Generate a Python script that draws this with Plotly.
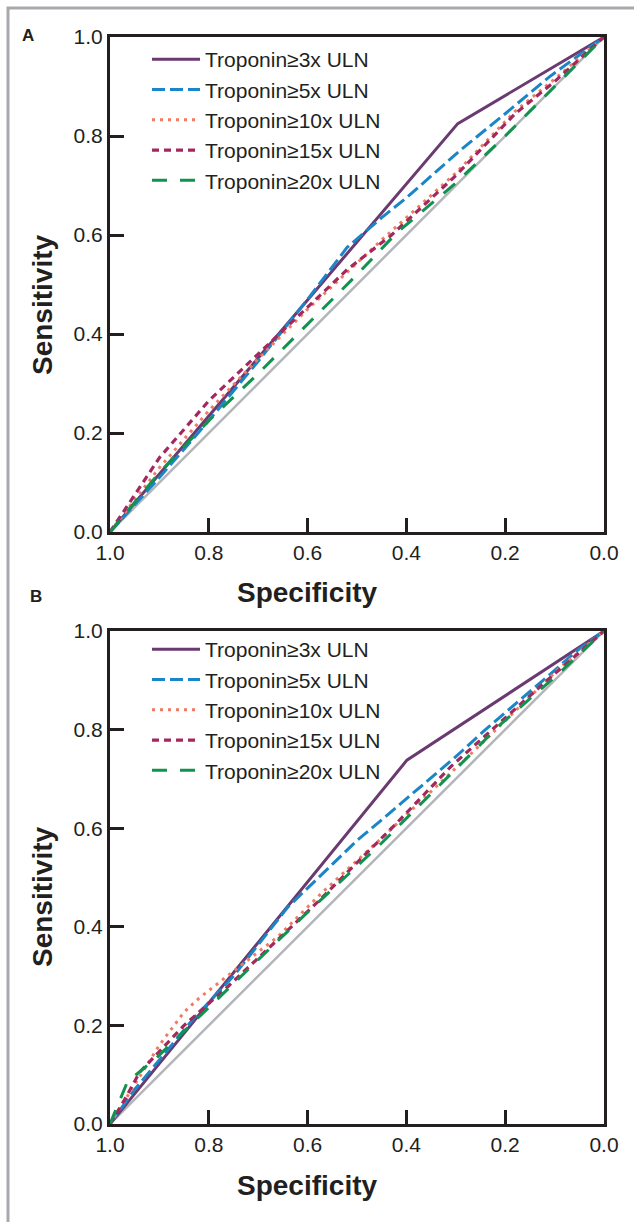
import plotly.graph_objects as go

W, H = 634, 1222

labels = ["Troponin≥3x ULN", "Troponin≥5x ULN", "Troponin≥10x ULN",
          "Troponin≥15x ULN", "Troponin≥20x ULN"]

# Panel A (specificity, sensitivity)
a_spec_3 = [1.0, 0.296, 0.0]
a_sens_3 = [0.0, 0.825, 1.0]
a_spec_5 = [1.0, 0.90, 0.80, 0.70, 0.60, 0.52, 0.45, 0.40, 0.29, 0.20, 0.11, 0.0]
a_sens_5 = [0.0, 0.11, 0.225, 0.345, 0.47, 0.575, 0.635, 0.675, 0.772, 0.845, 0.92, 1.0]
a_spec_10 = [1.0, 0.95, 0.90, 0.80, 0.70, 0.60, 0.45, 0.30, 0.18, 0.10, 0.0]
a_sens_10 = [0.0, 0.065, 0.13, 0.245, 0.35, 0.45, 0.59, 0.725, 0.85, 0.915, 1.0]
a_spec_15 = [1.0, 0.95, 0.90, 0.80, 0.70, 0.60, 0.52, 0.43, 0.30, 0.18, 0.10, 0.0]
a_sens_15 = [0.0, 0.075, 0.15, 0.265, 0.36, 0.455, 0.53, 0.60, 0.72, 0.845, 0.91, 1.0]
a_spec_20 = [1.0, 0.90, 0.80, 0.70, 0.60, 0.50, 0.42, 0.30, 0.20, 0.10, 0.0]
a_sens_20 = [0.0, 0.12, 0.225, 0.32, 0.42, 0.52, 0.604, 0.705, 0.80, 0.90, 1.0]

# Panel B (specificity, sensitivity)
b_spec_3 = [1.0, 0.399, 0.0]
b_sens_3 = [0.0, 0.738, 1.0]
b_spec_5 = [1.0, 0.95, 0.90, 0.83, 0.75, 0.64, 0.50, 0.45, 0.30, 0.24, 0.10, 0.055, 0.0]
b_sens_5 = [0.0, 0.07, 0.13, 0.215, 0.30, 0.44, 0.575, 0.617, 0.745, 0.80, 0.92, 0.96, 1.0]
b_spec_10 = [1.0, 0.95, 0.90, 0.85, 0.82, 0.75, 0.66, 0.57, 0.45, 0.265, 0.09, 0.0]
b_sens_10 = [0.0, 0.08, 0.16, 0.227, 0.255, 0.31, 0.38, 0.47, 0.58, 0.755, 0.925, 1.0]
b_spec_15 = [1.0, 0.97, 0.94, 0.85, 0.76, 0.58, 0.42, 0.31, 0.115, 0.0]
b_sens_15 = [0.0, 0.05, 0.105, 0.20, 0.28, 0.45, 0.61, 0.725, 0.90, 1.0]
b_spec_20 = [1.0, 0.98, 0.965, 0.905, 0.78, 0.61, 0.45, 0.21, 0.09, 0.0]
b_sens_20 = [0.0, 0.05, 0.085, 0.135, 0.255, 0.42, 0.57, 0.81, 0.915, 1.0]

ref_spec = [1.0, 0.0]
ref_sens = [0.0, 1.0]

tick_vals = [0.0, 0.2, 0.4, 0.6, 0.8, 1.0]
tick_text = ["0.0", "0.2", "0.4", "0.6", "0.8", "1.0"]

colors = ["#6a3a70", "#1a86c8", "#f07a62", "#a3285e", "#11924f"]
dashes = ["solid", "13px,5px", "3px,5px", "7px,5px", "15px,13px"]
widths = [3, 3, 3, 3.2, 3]

FONT = "Liberation Sans, Arial, Helvetica, sans-serif"
INK = "#231f20"

def px(x):
    return x / W

def py(y):
    return 1 - y / H

fig = go.Figure()

panels = [
    ("x", "y", "legend", [(a_spec_3, a_sens_3), (a_spec_5, a_sens_5), (a_spec_10, a_sens_10),
                          (a_spec_15, a_sens_15), (a_spec_20, a_sens_20)]),
    ("x2", "y2", "legend2", [(b_spec_3, b_sens_3), (b_spec_5, b_sens_5), (b_spec_10, b_sens_10),
                             (b_spec_15, b_sens_15), (b_spec_20, b_sens_20)]),
]

for xa, ya, lg, series in panels:
    fig.add_trace(go.Scatter(x=ref_spec, y=ref_sens, mode="lines", xaxis=xa, yaxis=ya,
                             line=dict(color="#b3b5ba", width=2.5), showlegend=False,
                             hoverinfo="skip"))
    for i, (sx, sy) in enumerate(series):
        fig.add_trace(go.Scatter(x=sx, y=sy, mode="lines", xaxis=xa, yaxis=ya,
                                 name=labels[i], legend=lg, legendgroup=f"{lg}{i}",
                                 line=dict(color=colors[i], dash=dashes[i], width=widths[i])))

axis_common = dict(
    range=[0, 1], showgrid=False, zeroline=False, showline=True, mirror=True,
    linecolor=INK, linewidth=3, ticks="inside", ticklen=14, tickwidth=2.5, tickcolor=INK,
    tickvals=tick_vals, ticktext=tick_text, tickfont=dict(family=FONT, size=21, color=INK),
    fixedrange=True, automargin=False,
)

xdom = [px(110), px(604)]
leg_common = dict(xanchor="left", yanchor="top", bgcolor="rgba(0,0,0,0)",
                  font=dict(family=FONT, size=21, color=INK), tracegroupgap=0, itemwidth=48)
fig.update_layout(
    width=W, height=H, margin=dict(l=0, r=0, t=0, b=0, autoexpand=False),
    paper_bgcolor="white", plot_bgcolor="white",
    xaxis=dict(axis_common, domain=xdom, range=[1.0, 0.0], anchor="y"),
    yaxis=dict(axis_common, domain=[py(532), py(37)], anchor="x"),
    xaxis2=dict(axis_common, domain=xdom, range=[1.0, 0.0], anchor="y2"),
    yaxis2=dict(axis_common, domain=[py(1124), py(631)], anchor="x2"),
    legend=dict(leg_common, x=px(147), y=py(39)),
    legend2=dict(leg_common, x=px(147), y=py(629)),
    showlegend=True,
)

annots = [
    dict(text="<b>A</b>", x=px(28), y=py(35), size=17),
    dict(text="<b>B</b>", x=px(36), y=py(596), size=17),
    dict(text="<b>Specificity</b>", x=px(307), y=py(592), size=28),
    dict(text="<b>Specificity</b>", x=px(307), y=py(1185), size=28),
]
for a in annots:
    fig.add_annotation(text=a["text"], x=a["x"], y=a["y"], xref="paper", yref="paper",
                       showarrow=False, xanchor="center", yanchor="middle",
                       font=dict(family=FONT, size=a["size"], color=INK))
for yc in [305, 897]:
    fig.add_annotation(text="<b>Sensitivity</b>", x=px(42), y=py(yc), xref="paper", yref="paper",
                       showarrow=False, xanchor="center", yanchor="middle", textangle=-90,
                       font=dict(family=FONT, size=28, color=INK))

# outer gray frame (top and left edges visible)
fig.add_shape(type="rect", xref="paper", yref="paper", x0=px(8), y0=-0.05, x1=1.05, y1=py(8),
              line=dict(color="#a7a9ac", width=3), fillcolor="rgba(0,0,0,0)", layer="below")

fig.write_html("out.html", config={"displayModeBar": False},
               post_script="document.body.style.margin='0';document.body.style.overflow='hidden';")
